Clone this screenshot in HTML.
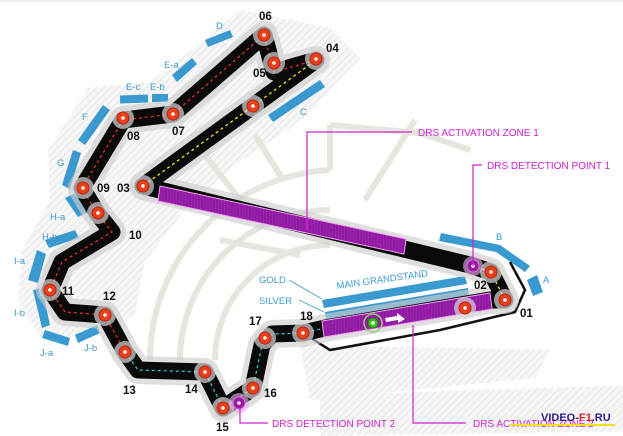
<!DOCTYPE html>
<html><head><meta charset="utf-8"><style>
html,body{margin:0;padding:0;background:#fff;}
svg{display:block;font-family:"Liberation Sans",sans-serif;}
</style></head><body>
<svg width="623" height="436" viewBox="0 0 623 436" xmlns="http://www.w3.org/2000/svg">
<defs>
<pattern id="h" width="5" height="5" patternUnits="userSpaceOnUse" patternTransform="rotate(45)">
<rect width="5" height="5" fill="#f7f7f7"/><line x1="0" y1="0" x2="0" y2="5" stroke="#dcdcdc" stroke-width="1.2"/></pattern>
<pattern id="p" width="3" height="3" patternUnits="userSpaceOnUse">
<rect width="3" height="3" fill="#a020b0"/><line x1="1" y1="0" x2="1" y2="3" stroke="#7a1890" stroke-width="1"/></pattern>
</defs>
<rect width="623" height="436" fill="#fff"/>
<line x1="0" y1="1" x2="623" y2="1" stroke="#ddd"/>
<path d="M240,10 L330,28 L360,58 L305,118 L235,165 L185,210 L145,262 L135,315 L100,335 L40,338 L18,300 L22,250 L50,200 L48,150 L88,88 L150,82 L185,55 Z" fill="url(#h)"/>
<path d="M320,395 L730,382 L712,430 L320,436 Z" fill="url(#h)"/>
<path d="M300,345 L550,350 L535,378 L310,400 Z" fill="url(#h)"/>
<g fill="none" stroke="#e6e6df" stroke-width="6">
<path d="M150,360 A190,190 0 0 1 330,170"/>
<path d="M180,360 A150,150 0 0 1 330,210"/>
<path d="M215,360 A115,115 0 0 1 330,245"/>
<path d="M330,170 L330,125 M365,200 L415,120 M240,200 L205,155 M283,180 L255,135"/>
<path d="M330,125 L420,133 L470,150"/>
<path d="M220,240 L300,255"/>
</g>
<g fill="#3a9ad0">
<polygon points="205,40 230,30 233,37 208,47"/>
<polygon points="172,75 192,58 197,64 177,82"/>
<rect x="120" y="95" width="28" height="8" transform="rotate(-2 134 99)"/>
<rect x="152" y="94" width="16" height="8"/>
<polygon points="78,140 103,105 110,110 85,145"/>
<polygon points="62,185 73,150 81,153 70,189"/>
<polygon points="65,198 75,193 88,212 78,217"/>
<polygon points="45,240 75,230 79,238 49,248"/>
<polygon points="28,280 37,250 46,254 38,283"/>
<polygon points="33,290 42,288 50,325 42,328"/>
<polygon points="45,330 70,338 68,346 42,338"/>
<polygon points="75,335 97,325 100,333 78,343"/>
<polygon points="268,115 320,80 325,87 273,122"/>
<polygon points="441,233 500,245 530,266 525,272 496,252 439,241"/>
<polygon points="527,280 537,275 543,292 533,296"/>
<polygon points="322,300 465,276 467,284 324,308"/>
<polygon points="325,312 468,288 469,296 326,320"/>
</g>
<path d="M303,333 L330,350 L440,330 L515,312 L525,290 L510,262" fill="none" stroke="#111" stroke-width="2.5"/>
<g fill="none" stroke-linejoin="round" stroke-linecap="round">
<path id="t" d="M505,300 L491,272 L470,265 L143,186 L253,106 L316,60 L274,72 L264,35 L173,114 L123,120 L82,188 L97,213 L112,232 L62,262 L50,290 L65,312 L105,315 L125,352 L138,370 L205,372 L223,408 L253,388 L262,345 L272,334 L303,333 L325,328 L490,300 Z" stroke="#ccc" stroke-width="28" opacity="0.4"/>
<use href="#t" stroke="#0a0a0a" stroke-width="17" opacity="1" style="opacity:1"/>
</g>
<path d="M505,300 L491,272 L470,265 L143,186 L253,106 L316,60 L274,72 L264,35 L173,114 L123,120 L82,188 L97,213 L112,232 L62,262 L50,290 L65,312 L105,315 L125,352 L138,370 L205,372 L223,408 L253,388 L262,345 L272,334 L303,333 L325,328 L490,300 Z" fill="none" stroke="#0a0a0a" stroke-width="17" stroke-linejoin="round"/>
<path d="M143,186 L253,106 L316,60 M491,272 L470,265 M505,300 L491,272" fill="none" stroke="#f0e020" stroke-width="1.3" stroke-dasharray="3,3"/>
<path d="M316,60 L274,72 L264,35 L173,114 L123,120 L82,188 L97,213 L112,232 L62,262 L50,290 L65,312 L105,315 L125,352" fill="none" stroke="#e03020" stroke-width="1.3" stroke-dasharray="3,3"/>
<path d="M125,352 L138,370 L205,372 L223,408 L253,388 L262,345 L272,334 L303,333 L325,328" fill="none" stroke="#30c0d0" stroke-width="1.3" stroke-dasharray="3,3"/>
<polygon points="160,186 406,239 404,254 158,201" fill="url(#p)" stroke="#f0a0f0" stroke-width="1"/>
<polygon points="322,321 490,293 492,309 324,337" fill="url(#p)" stroke="#f0a0f0" stroke-width="1"/>
<polygon points="385,318 397,316 397,313 405,319 398,323 398,320 386,322" fill="#fff"/>
<g>
<g fill="#d8d8d8" opacity="0.7">
<circle cx="505" cy="300" r="11"/><circle cx="491" cy="272" r="11"/><circle cx="143" cy="186" r="11"/><circle cx="316" cy="59" r="11"/><circle cx="274" cy="63" r="11"/><circle cx="264" cy="35" r="11"/><circle cx="173" cy="114" r="11"/><circle cx="123" cy="118" r="11"/><circle cx="83" cy="188" r="11"/><circle cx="98" cy="213" r="11"/><circle cx="50" cy="290" r="11"/><circle cx="105" cy="315" r="11"/><circle cx="125" cy="352" r="11"/><circle cx="205" cy="372" r="11"/><circle cx="223" cy="408" r="11"/><circle cx="253" cy="388" r="11"/><circle cx="265" cy="338" r="11"/><circle cx="303" cy="333" r="11"/><circle cx="253" cy="106" r="11"/><circle cx="465" cy="308" r="11"/>
</g>
<g fill="#e8401a" stroke="#c02010" stroke-width="1">
<circle cx="505" cy="300" r="6"/><circle cx="491" cy="272" r="6"/><circle cx="143" cy="186" r="6"/><circle cx="316" cy="59" r="6"/><circle cx="274" cy="63" r="6"/><circle cx="264" cy="35" r="6"/><circle cx="173" cy="114" r="6"/><circle cx="123" cy="118" r="6"/><circle cx="83" cy="188" r="6"/><circle cx="98" cy="213" r="6"/><circle cx="50" cy="290" r="6"/><circle cx="105" cy="315" r="6"/><circle cx="125" cy="352" r="6"/><circle cx="205" cy="372" r="6"/><circle cx="223" cy="408" r="6"/><circle cx="253" cy="388" r="6"/><circle cx="265" cy="338" r="6"/><circle cx="303" cy="333" r="6"/><circle cx="253" cy="106" r="6"/><circle cx="465" cy="308" r="6"/>
</g>
<g fill="#fff">
<circle cx="505" cy="300" r="1.8"/><circle cx="491" cy="272" r="1.8"/><circle cx="143" cy="186" r="1.8"/><circle cx="316" cy="59" r="1.8"/><circle cx="274" cy="63" r="1.8"/><circle cx="264" cy="35" r="1.8"/><circle cx="173" cy="114" r="1.8"/><circle cx="123" cy="118" r="1.8"/><circle cx="83" cy="188" r="1.8"/><circle cx="98" cy="213" r="1.8"/><circle cx="50" cy="290" r="1.8"/><circle cx="105" cy="315" r="1.8"/><circle cx="125" cy="352" r="1.8"/><circle cx="205" cy="372" r="1.8"/><circle cx="223" cy="408" r="1.8"/><circle cx="253" cy="388" r="1.8"/><circle cx="265" cy="338" r="1.8"/><circle cx="303" cy="333" r="1.8"/><circle cx="253" cy="106" r="1.8"/><circle cx="465" cy="308" r="1.8"/>
</g>
<circle cx="473" cy="266" r="10" fill="#f0b0f0" opacity="0.6"/><circle cx="473" cy="266" r="6" fill="#9a1aa0" stroke="#e070e0"/><circle cx="473" cy="266" r="1.8" fill="#fff"/>
<circle cx="239" cy="403" r="10" fill="#f0b0f0" opacity="0.6"/><circle cx="239" cy="403" r="6" fill="#9a1aa0" stroke="#e070e0"/><circle cx="239" cy="403" r="1.8" fill="#fff"/>
<circle cx="373" cy="323" r="9" fill="none" stroke="#90d070" stroke-width="1.5"/><circle cx="373" cy="323" r="5" fill="#40c020" stroke="#208010"/><circle cx="373" cy="323" r="1.8" fill="#fff"/>
</g>
<g fill="none" stroke="#d020d0" stroke-width="1.2">
<path d="M307,230 L307,132 L412,132"/>
<path d="M473,266 L473,165 L482,165"/>
<path d="M240,408 L240,423 L268,423"/>
<path d="M413,325 L413,423 L466,423"/>
</g>
<g stroke="#3a9ad0" stroke-width="0.8"><line x1="289" y1="280" x2="322" y2="299"/><line x1="299" y1="300" x2="324" y2="312"/></g>
<g font-size="11.5" font-weight="bold" fill="#111">
<text x="259" y="20">06</text><text x="326" y="52">04</text><text x="253" y="77">05</text><text x="172" y="135">07</text><text x="127" y="140">08</text><text x="97" y="192">09</text><text x="117" y="192">03</text><text x="129" y="239">10</text><text x="62" y="295">11</text><text x="103" y="300">12</text><text x="123" y="394">13</text><text x="185" y="393">14</text><text x="216" y="431">15</text><text x="264" y="397">16</text><text x="249" y="325">17</text><text x="300" y="320">18</text><text x="474" y="289">02</text><text x="520" y="317">01</text>
</g>
<g font-size="9.5" fill="#3a9ad0">
<text x="216" y="29">D</text><text x="164" y="68">E-a</text><text x="126" y="90">E-c</text><text x="150" y="90">E-b</text><text x="82" y="120">F</text><text x="57" y="166">G</text><text x="50" y="220">H-a</text><text x="42" y="240">H-b</text><text x="14" y="264">I-a</text><text x="14" y="316">I-b</text><text x="40" y="356">J-a</text><text x="84" y="351">J-b</text><text x="300" y="115">C</text><text x="496" y="240">B</text><text x="543" y="283">A</text>
<text x="259" y="283">GOLD</text><text x="259" y="304">SILVER</text>
<text x="337" y="289" transform="rotate(-8 337 289)">MAIN  GRANDSTAND</text>
</g>
<g font-size="10" fill="#d020d0">
<text x="418" y="136">DRS ACTIVATION ZONE 1</text>
<text x="487" y="169">DRS DETECTION POINT 1</text>
<text x="272" y="427">DRS DETECTION POINT 2</text>
<text x="473" y="427">DRS ACTIVATION ZONE 2</text>
</g>
<text x="541" y="421" font-size="11" font-weight="bold" fill="#302090">VIDEO-<tspan fill="#e02020">F1</tspan>.RU</text>
<line x1="510" y1="425" x2="615" y2="425" stroke="#f0e020" stroke-width="2"/>
</svg>
</body></html>
